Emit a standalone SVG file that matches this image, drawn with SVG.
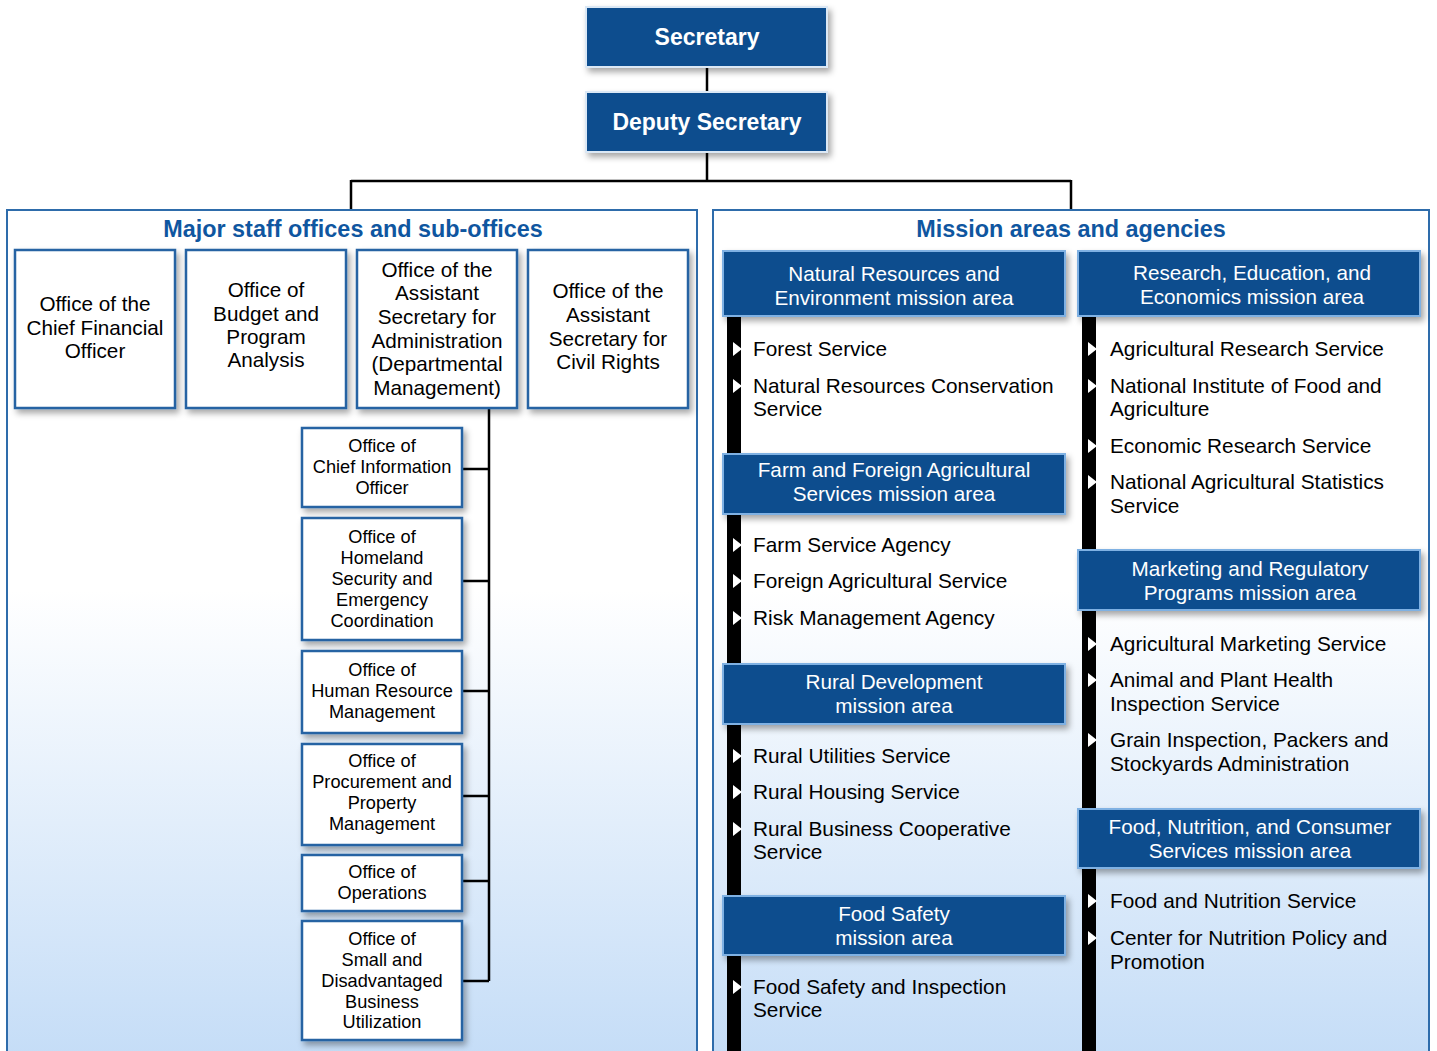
<svg xmlns="http://www.w3.org/2000/svg" width="1437" height="1051" viewBox="0 0 1437 1051">
<defs>
<linearGradient id="panelBg" x1="0" y1="0" x2="0" y2="1">
<stop offset="0" stop-color="#ffffff"/>
<stop offset="0.45" stop-color="#ffffff"/>
<stop offset="1" stop-color="#c5ddf7"/>
</linearGradient>
<filter id="sh" x="-10%" y="-10%" width="130%" height="140%">
<feDropShadow dx="3" dy="4" stdDeviation="3" flood-color="#000" flood-opacity="0.35"/>
</filter>
<style>
.top{fill:#0a4e8e;stroke:#dbe8f5;stroke-width:2}
.toptxt{font-family:"Liberation Sans",Arial,sans-serif;font-weight:bold;font-size:23px;fill:#fff;text-anchor:middle}
.panel{fill:url(#panelBg);stroke:#2e6cab;stroke-width:2}
.ptitle{font-family:"Liberation Sans",Arial,sans-serif;font-weight:bold;font-size:23.4px;fill:#0f56a0;text-anchor:middle}
.staff{fill:#fff;stroke:#2663a3;stroke-width:2.5}
.stxt{font-family:"Liberation Sans",Arial,sans-serif;font-size:20.7px;fill:#000;text-anchor:middle}
.sub{fill:#fff;stroke:#2663a3;stroke-width:2.5}
.subtxt{font-family:"Liberation Sans",Arial,sans-serif;font-size:18.2px;fill:#000;text-anchor:middle}
.mhead{fill:#0a4e8e;stroke:#7fb1e3;stroke-width:2}
.mtxt{font-family:"Liberation Sans",Arial,sans-serif;font-size:20.7px;fill:#fff;text-anchor:middle}
.item{font-family:"Liberation Sans",Arial,sans-serif;font-size:20.8px;fill:#000}
.bar{fill:#000}
.tri{fill:#fff}
.ln{stroke:#000;stroke-width:2.5;fill:none}
</style>
</defs>
<rect width="1437" height="1051" fill="#fff"/>

<g id="panel-left">
<rect class="panel" x="7" y="210" width="690" height="845"/>
<text class="ptitle" x="353" y="237">Major staff offices and sub-offices</text>
</g>
<g id="panel-right">
<rect class="panel" x="713" y="210" width="716" height="845"/>
<text class="ptitle" x="1071" y="237">Mission areas and agencies</text>
</g>

<g id="connectors">
<path class="ln" d="M707,67 V92"/>
<path class="ln" d="M707,152 V181 M351,181 H1071 M351,180 V209 M1071,180 V209"/>
<path class="ln" d="M489,408 V981 M462,469 H489 M462,581 H489 M462,691 H489 M462,796 H489 M462,881 H489 M462,981 H489"/>
<rect class="bar" x="727" y="316" width="14" height="740"/>
<rect class="bar" x="1082" y="316" width="14" height="740"/>
</g>

<g id="secretary">
<rect class="top" x="586" y="7" width="241" height="60" filter="url(#sh)"/>
<text class="toptxt" x="707" y="45">Secretary</text>
</g>
<g id="deputy-secretary">
<rect class="top" x="586" y="92" width="241" height="60" filter="url(#sh)"/>
<text class="toptxt" x="707" y="130">Deputy Secretary</text>
</g>

<g id="ocfo">
<rect class="staff" x="15" y="250" width="160" height="158" filter="url(#sh)"/>
<text class="stxt" x="95" y="311">Office of the</text>
<text class="stxt" x="95" y="335">Chief Financial</text>
<text class="stxt" x="95" y="358">Officer</text>
</g>
<g id="obpa">
<rect class="staff" x="186" y="250" width="160" height="158" filter="url(#sh)"/>
<text class="stxt" x="266" y="297">Office of</text>
<text class="stxt" x="266" y="321">Budget and</text>
<text class="stxt" x="266" y="344">Program</text>
<text class="stxt" x="266" y="367">Analysis</text>
</g>
<g id="asa">
<rect class="staff" x="357" y="250" width="160" height="158" filter="url(#sh)"/>
<text class="stxt" x="437" y="277">Office of the</text>
<text class="stxt" x="437" y="300">Assistant</text>
<text class="stxt" x="437" y="324">Secretary for</text>
<text class="stxt" x="437" y="348">Administration</text>
<text class="stxt" x="437" y="371">(Departmental</text>
<text class="stxt" x="437" y="395">Management)</text>
</g>
<g id="ascr">
<rect class="staff" x="528" y="250" width="160" height="158" filter="url(#sh)"/>
<text class="stxt" x="608" y="298">Office of the</text>
<text class="stxt" x="608" y="322">Assistant</text>
<text class="stxt" x="608" y="346">Secretary for</text>
<text class="stxt" x="608" y="369">Civil Rights</text>
</g>

<g id="ocio">
<rect class="sub" x="302" y="428" width="160" height="79" filter="url(#sh)"/>
<text class="subtxt" x="382" y="452">Office of</text>
<text class="subtxt" x="382" y="473">Chief Information</text>
<text class="subtxt" x="382" y="494">Officer</text>
</g>
<g id="ohsec">
<rect class="sub" x="302" y="518" width="160" height="122" filter="url(#sh)"/>
<text class="subtxt" x="382" y="543">Office of</text>
<text class="subtxt" x="382" y="564">Homeland</text>
<text class="subtxt" x="382" y="585">Security and</text>
<text class="subtxt" x="382" y="606">Emergency</text>
<text class="subtxt" x="382" y="627">Coordination</text>
</g>
<g id="ohrm">
<rect class="sub" x="302" y="651" width="160" height="82" filter="url(#sh)"/>
<text class="subtxt" x="382" y="676">Office of</text>
<text class="subtxt" x="382" y="697">Human Resource</text>
<text class="subtxt" x="382" y="718">Management</text>
</g>
<g id="oppm">
<rect class="sub" x="302" y="744" width="160" height="101" filter="url(#sh)"/>
<text class="subtxt" x="382" y="767">Office of</text>
<text class="subtxt" x="382" y="788">Procurement and</text>
<text class="subtxt" x="382" y="809">Property</text>
<text class="subtxt" x="382" y="830">Management</text>
</g>
<g id="oo">
<rect class="sub" x="302" y="855" width="160" height="56" filter="url(#sh)"/>
<text class="subtxt" x="382" y="878">Office of</text>
<text class="subtxt" x="382" y="899">Operations</text>
</g>
<g id="osdbu">
<rect class="sub" x="302" y="921" width="160" height="119" filter="url(#sh)"/>
<text class="subtxt" x="382" y="945">Office of</text>
<text class="subtxt" x="382" y="966">Small and</text>
<text class="subtxt" x="382" y="987">Disadvantaged</text>
<text class="subtxt" x="382" y="1008">Business</text>
<text class="subtxt" x="382" y="1028">Utilization</text>
</g>

<g id="nre">
<rect class="mhead" x="723" y="251" width="342" height="65" filter="url(#sh)"/>
<text class="mtxt" x="894" y="281">Natural Resources and</text>
<text class="mtxt" x="894" y="305">Environment mission area</text>
<polygon class="tri" points="733,342 742,349 733,356"/>
<text class="item" x="753" y="356">Forest Service</text>
<polygon class="tri" points="733,379 742,386 733,393"/>
<text class="item" x="753" y="393">Natural Resources Conservation</text>
<text class="item" x="753" y="416">Service</text>
</g>
<g id="ffas">
<rect class="mhead" x="723" y="454" width="342" height="60" filter="url(#sh)"/>
<text class="mtxt" x="894" y="477">Farm and Foreign Agricultural</text>
<text class="mtxt" x="894" y="501">Services mission area</text>
<polygon class="tri" points="733,538 742,545 733,552"/>
<text class="item" x="753" y="552">Farm Service Agency</text>
<polygon class="tri" points="733,574 742,581 733,588"/>
<text class="item" x="753" y="588">Foreign Agricultural Service</text>
<polygon class="tri" points="733,611 742,618 733,625"/>
<text class="item" x="753" y="625">Risk Management Agency</text>
</g>
<g id="rd">
<rect class="mhead" x="723" y="664" width="342" height="60" filter="url(#sh)"/>
<text class="mtxt" x="894" y="689">Rural Development</text>
<text class="mtxt" x="894" y="713">mission area</text>
<polygon class="tri" points="733,749 742,756 733,763"/>
<text class="item" x="753" y="763">Rural Utilities Service</text>
<polygon class="tri" points="733,785 742,792 733,799"/>
<text class="item" x="753" y="799">Rural Housing Service</text>
<polygon class="tri" points="733,822 742,829 733,836"/>
<text class="item" x="753" y="836">Rural Business Cooperative</text>
<text class="item" x="753" y="859">Service</text>
</g>
<g id="fs">
<rect class="mhead" x="723" y="896" width="342" height="59" filter="url(#sh)"/>
<text class="mtxt" x="894" y="921">Food Safety</text>
<text class="mtxt" x="894" y="945">mission area</text>
<polygon class="tri" points="733,980 742,987 733,994"/>
<text class="item" x="753" y="994">Food Safety and Inspection</text>
<text class="item" x="753" y="1017">Service</text>
</g>

<g id="ree">
<rect class="mhead" x="1078" y="251" width="342" height="65" filter="url(#sh)"/>
<text class="mtxt" x="1252" y="280">Research, Education, and</text>
<text class="mtxt" x="1252" y="304">Economics mission area</text>
<polygon class="tri" points="1088,342 1097,349 1088,356"/>
<text class="item" x="1110" y="356">Agricultural Research Service</text>
<polygon class="tri" points="1088,379 1097,386 1088,393"/>
<text class="item" x="1110" y="393">National Institute of Food and</text>
<text class="item" x="1110" y="416">Agriculture</text>
<polygon class="tri" points="1088,439 1097,446 1088,453"/>
<text class="item" x="1110" y="453">Economic Research Service</text>
<polygon class="tri" points="1088,475 1097,482 1088,489"/>
<text class="item" x="1110" y="489">National Agricultural Statistics</text>
<text class="item" x="1110" y="513">Service</text>
</g>
<g id="mrp">
<rect class="mhead" x="1078" y="550" width="342" height="60" filter="url(#sh)"/>
<text class="mtxt" x="1250" y="576">Marketing and Regulatory</text>
<text class="mtxt" x="1250" y="600">Programs mission area</text>
<polygon class="tri" points="1088,637 1097,644 1088,651"/>
<text class="item" x="1110" y="651">Agricultural Marketing Service</text>
<polygon class="tri" points="1088,673 1097,680 1088,687"/>
<text class="item" x="1110" y="687">Animal and Plant Health</text>
<text class="item" x="1110" y="711">Inspection Service</text>
<polygon class="tri" points="1088,733 1097,740 1088,747"/>
<text class="item" x="1110" y="747">Grain Inspection, Packers and</text>
<text class="item" x="1110" y="771">Stockyards Administration</text>
</g>
<g id="fncs">
<rect class="mhead" x="1078" y="809" width="342" height="59" filter="url(#sh)"/>
<text class="mtxt" x="1250" y="834">Food, Nutrition, and Consumer</text>
<text class="mtxt" x="1250" y="858">Services mission area</text>
<polygon class="tri" points="1088,894 1097,901 1088,908"/>
<text class="item" x="1110" y="908">Food and Nutrition Service</text>
<polygon class="tri" points="1088,931 1097,938 1088,945"/>
<text class="item" x="1110" y="945">Center for Nutrition Policy and</text>
<text class="item" x="1110" y="969">Promotion</text>
</g>
</svg>
